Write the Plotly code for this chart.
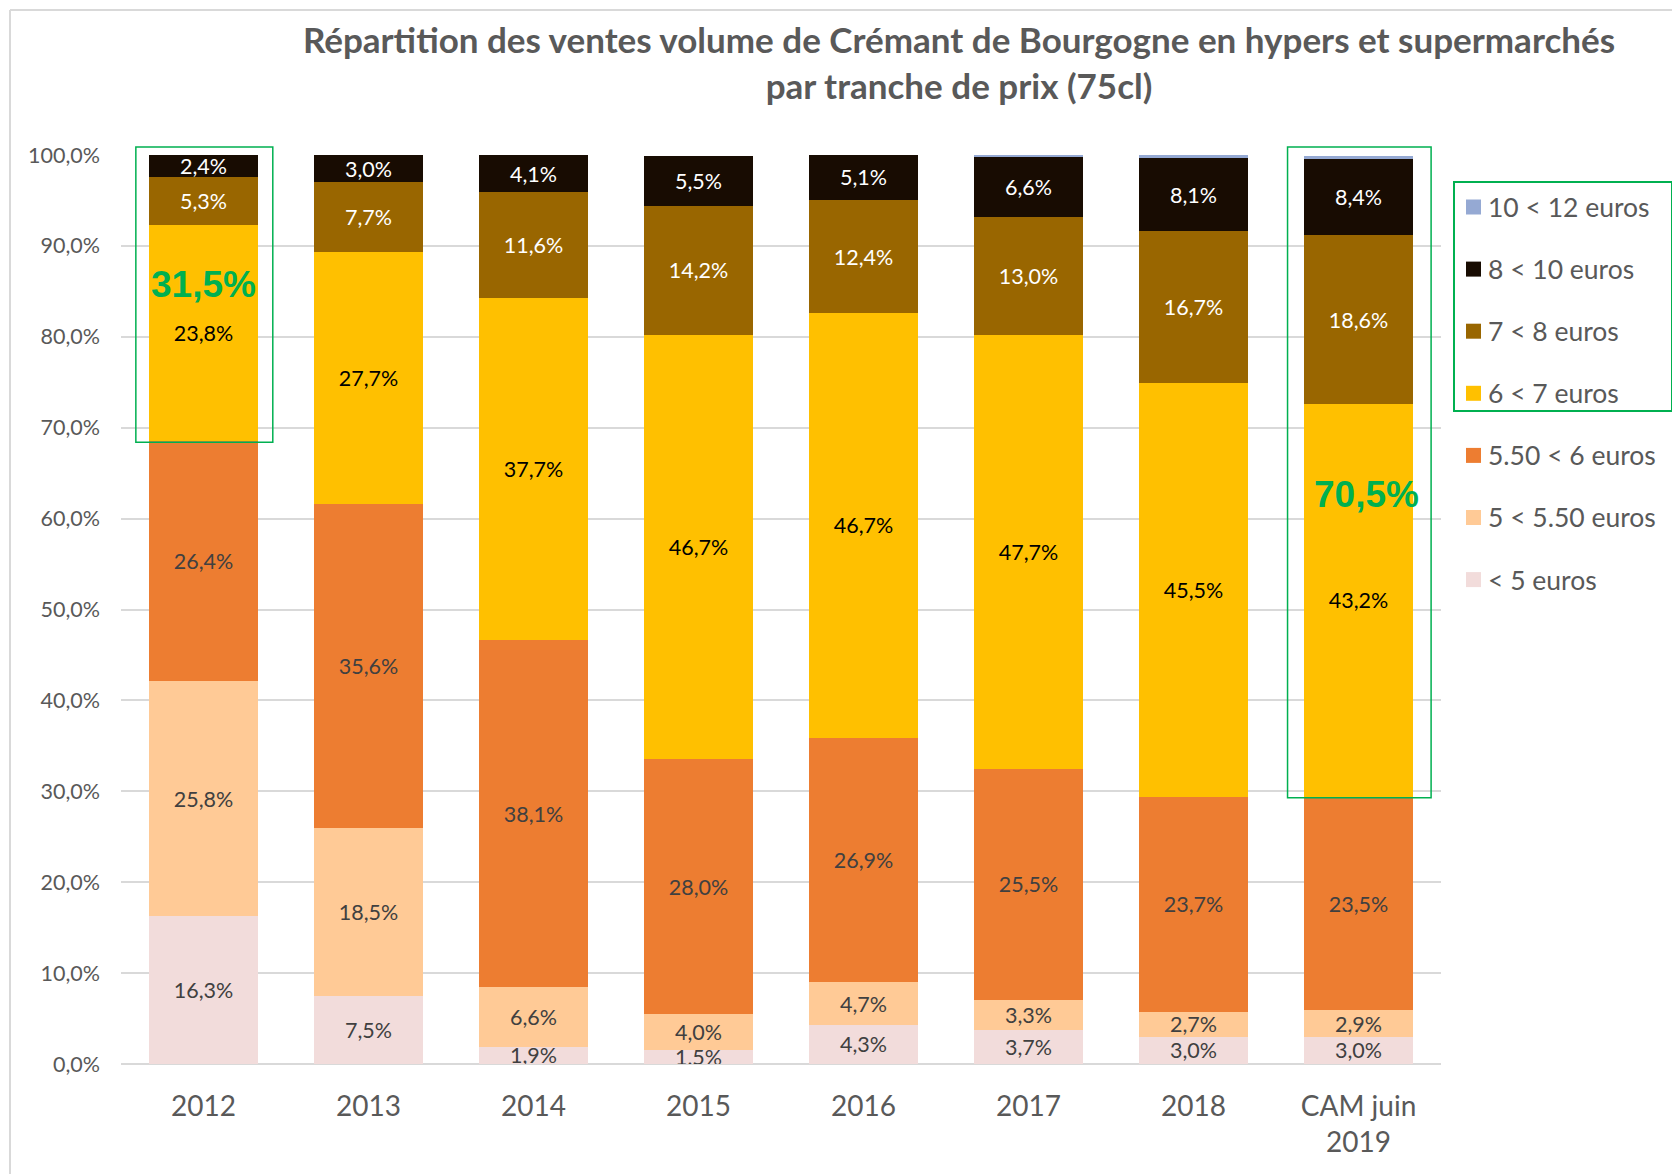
import plotly.graph_objects as go

categories = ["2012", "2013", "2014", "2015", "2016", "2017", "2018", "CAM juin<br>2019"]
series_names = ["< 5 euros", "5 < 5.50 euros", "5.50 < 6 euros", "6 < 7 euros",
                "7 < 8 euros", "8 < 10 euros", "10 < 12 euros"]
v_lt5 = [16.3, 7.5, 1.9, 1.5, 4.3, 3.7, 3.0, 3.0]
v_5_550 = [25.8, 18.5, 6.6, 4.0, 4.7, 3.3, 2.7, 2.9]
v_550_6 = [26.4, 35.6, 38.1, 28.0, 26.9, 25.5, 23.7, 23.5]
v_6_7 = [23.8, 27.7, 37.7, 46.7, 46.7, 47.7, 45.5, 43.2]
v_7_8 = [5.3, 7.7, 11.6, 14.2, 12.4, 13.0, 16.7, 18.6]
v_8_10 = [2.4, 3.0, 4.1, 5.5, 5.1, 6.6, 8.1, 8.4]
v_10_12 = [0.0, 0.0, 0.0, 0.0, 0.0, 0.1, 0.3, 0.3]

series_values = [v_lt5, v_5_550, v_550_6, v_6_7, v_7_8, v_8_10, v_10_12]
colors = ["#F2DCDB", "#FFCA96", "#ED7D31", "#FFC000", "#996600", "#180C02", "#95A9D3"]
text_colors = ["#404040", "#404040", "#404040", "#000000", "#FFFFFF", "#FFFFFF", "#FFFFFF"]
show_text = [True, True, True, True, True, True, False]

FONT = "Lato"
GRAY = "#595959"
GREEN = "#00B050"

OFF = 8  # page body margin
W, H = 1680 - OFF, 1174 - OFF
# plot area in screen pixels
SL, SR, ST, SB = 121, 1441, 155, 1064
YMAX = 100


def px_to_paper_x(px):
    return (px - SL) / (SR - SL)


def px_to_paper_y(py):
    return (SB - py) / (SB - ST)


def fmt(v):
    return f"{v:.1f}".replace(".", ",") + "%"


fig = go.Figure()
for name, vals, col, tcol, st in zip(series_names, series_values, colors, text_colors, show_text):
    fig.add_trace(go.Bar(
        x=list(range(len(categories))),
        y=vals,
        name=name,
        showlegend=False,
        marker=dict(color=col, line=dict(width=0)),
        text=[fmt(v) for v in vals] if st else None,
        textposition="inside" if st else "none",
        insidetextanchor="middle",
        constraintext="none",
        textfont=dict(family=FONT, size=21.5, color=tcol),
        textangle=0,
        hoverinfo="skip",
    ))

n = len(categories)
high_first = v_6_7[0] + v_7_8[0] + v_8_10[0] + v_10_12[0]
high_last = v_6_7[-1] + v_7_8[-1] + v_8_10[-1] + v_10_12[-1]
base_first = v_lt5[0] + v_5_550[0] + v_550_6[0]
base_last = v_lt5[-1] + v_5_550[-1] + v_550_6[-1]


def cat_to_paper(c):
    return (c + 0.5) / n


box_top = px_to_paper_y(147)

shapes = [
    dict(type="line", xref="paper", yref="paper",
         x0=px_to_paper_x(10), x1=px_to_paper_x(10), y0=px_to_paper_y(10), y1=px_to_paper_y(1180),
         line=dict(color="#D9D9D9", width=2)),
    dict(type="line", xref="paper", yref="paper",
         x0=px_to_paper_x(10), x1=px_to_paper_x(1690), y0=px_to_paper_y(10), y1=px_to_paper_y(10),
         line=dict(color="#D9D9D9", width=2)),
    dict(type="rect", xref="paper", yref="paper",
         x0=cat_to_paper(-0.41), x1=cat_to_paper(0.42), y0=(base_first - 0.1) / YMAX, y1=box_top,
         line=dict(color=GREEN, width=1.5)),
    dict(type="rect", xref="paper", yref="paper",
         x0=cat_to_paper(n - 1 - 0.43), x1=cat_to_paper(n - 1 + 0.44), y0=(base_last - 0.1) / YMAX, y1=box_top,
         line=dict(color=GREEN, width=1.5)),
    dict(type="rect", xref="paper", yref="paper",
         x0=px_to_paper_x(1454), x1=px_to_paper_x(1672), y0=px_to_paper_y(411), y1=px_to_paper_y(182),
         line=dict(color=GREEN, width=2)),
]

annotations = [
    dict(x=0, y=85.8, xref="x", yref="y", text=fmt(high_first), showarrow=False,
         font=dict(family="Liberation Sans", size=37, color=GREEN, weight="bold")),
    dict(x=n - 1 + 0.05, y=62.7, xref="x", yref="y", text=fmt(high_last), showarrow=False,
         font=dict(family="Liberation Sans", size=37, color=GREEN, weight="bold")),
]

# legend drawn by hand (reversed order: top = last series)
LEG_X0, LEG_SYM = 1466, 15
LEG_Y0, LEG_DY = 207, 62.1
for k, idx in enumerate(reversed(range(len(series_names)))):
    yc = LEG_Y0 + k * LEG_DY
    shapes.append(dict(
        type="rect", xref="paper", yref="paper",
        x0=px_to_paper_x(LEG_X0), x1=px_to_paper_x(LEG_X0 + LEG_SYM),
        y0=px_to_paper_y(yc + LEG_SYM / 2), y1=px_to_paper_y(yc - LEG_SYM / 2),
        fillcolor=colors[idx], line=dict(width=0),
    ))
    annotations.append(dict(
        x=px_to_paper_x(LEG_X0 + LEG_SYM + 5), y=px_to_paper_y(yc), xref="paper", yref="paper",
        xanchor="left", yanchor="middle", text=series_names[idx], showarrow=False,
        font=dict(family=FONT, size=26.5, color=GRAY),
    ))

fig.update_layout(
    width=W, height=H,
    margin=dict(l=SL - OFF, r=W - (SR - OFF), t=ST - OFF, b=H - (SB - OFF)),
    paper_bgcolor="white", plot_bgcolor="white",
    barmode="stack", bargap=0.34,
    separators=", ",
    showlegend=False,
    title=dict(
        text="Répartition des ventes volume de Crémant de Bourgogne en hypers et supermarchés<br>par tranche de prix (75cl)",
        x=(959 - OFF) / W, xanchor="center", xref="container",
        y=1 - 45 / H, yanchor="top", yref="container",
        font=dict(family=FONT, size=35, color=GRAY, weight="bold"),
    ),
    xaxis=dict(
        tickmode="array", tickvals=list(range(n)), ticktext=categories,
        range=[-0.5, n - 0.5],
        tickfont=dict(family=FONT, size=28, color=GRAY),
        ticks="outside", ticklen=17, tickcolor="rgba(0,0,0,0)",
        showline=False, showgrid=False, zeroline=False,
    ),
    yaxis=dict(
        range=[0, YMAX], dtick=10, tickformat=".1f", ticksuffix="%",
        tickfont=dict(family=FONT, size=21.5, color=GRAY),
        showgrid=True, gridcolor="#D9D9D9", gridwidth=1.5,
        zeroline=True, zerolinecolor="#D9D9D9", zerolinewidth=2,
        showline=False, ticklabelstandoff=20,
    ),
    shapes=shapes,
    annotations=annotations,
)

fig.write_html("out.html")
